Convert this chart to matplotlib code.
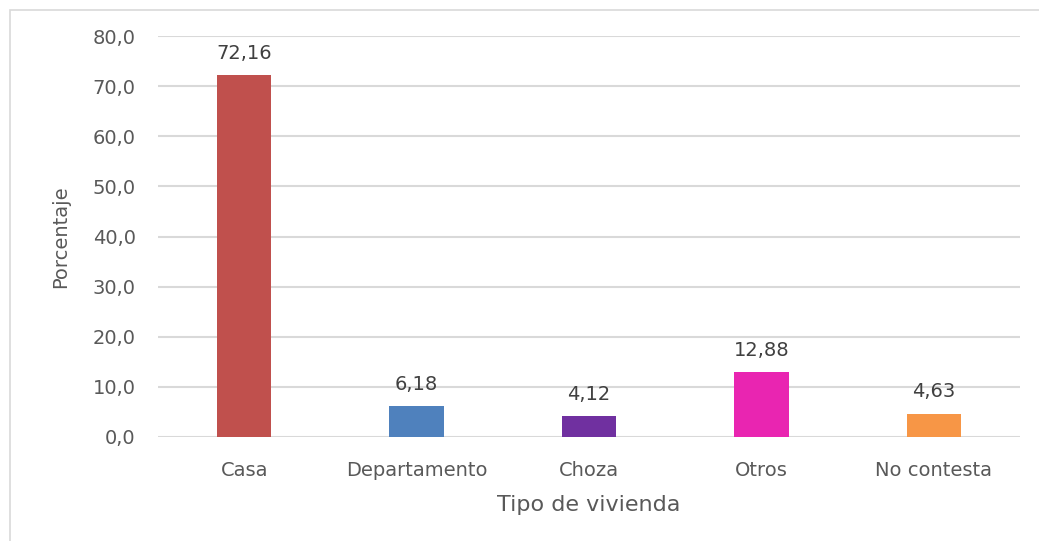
import matplotlib
matplotlib.use('Agg')
import matplotlib.pyplot as plt
from matplotlib.patches import Rectangle

# datos
categorias = ['Casa', 'Departamento', 'Choza', 'Otros', 'No contesta']
porcentajes = [72.16, 6.18, 4.12, 12.88, 4.63]
colores = ['#C0504D', '#4F81BD', '#7030A0', '#E925B1', '#F79646']
ticks_y = [0, 10, 20, 30, 40, 50, 60, 70, 80]

W, H = 1039, 541
fig = plt.figure(figsize=(W / 100, H / 100), dpi=100)
fig.patch.set_facecolor('white')

# marco exterior del grafico
fig.patches.append(Rectangle((10 / W, -0.1), 1.2, 1 - 10 / H + 0.1,
                             transform=fig.transFigure, fill=False,
                             edgecolor='#D9D9D9', linewidth=1.2))

ax = fig.add_axes([158 / W, 1 - 437 / H, (1020 - 158) / W, (437 - 36) / H])
x = range(len(categorias))
ax.bar(x, porcentajes, width=0.315, color=colores, zorder=3)

ax.set_xlim(-0.5, len(categorias) - 0.5)
ax.set_ylim(0, 80)
ax.set_yticks(ticks_y)
ax.set_yticklabels([f'{v:.1f}'.replace('.', ',') for v in ticks_y])
ax.set_xticks(list(x))
ax.set_xticklabels(categorias)

ax.grid(axis='y', color='#D9D9D9', linewidth=1.5, zorder=0)
for s in ax.spines.values():
    s.set_visible(False)
ax.tick_params(axis='y', length=0, colors='#595959', labelsize=14, pad=16)
ax.tick_params(axis='x', length=0, colors='#595959', labelsize=14, pad=17)

for xi, v in zip(x, porcentajes):
    ax.annotate(f'{v:.2f}'.replace('.', ','), (xi, v), xytext=(0, 9),
                textcoords='offset points', ha='center', va='bottom',
                fontsize=14, color='#404040')

ax.set_ylabel('Porcentaje', fontsize=14, color='#595959', labelpad=16)
ax.set_xlabel('Tipo de vivienda', fontsize=16, color='#595959', labelpad=11)

fig.savefig('out.png', dpi=100)
